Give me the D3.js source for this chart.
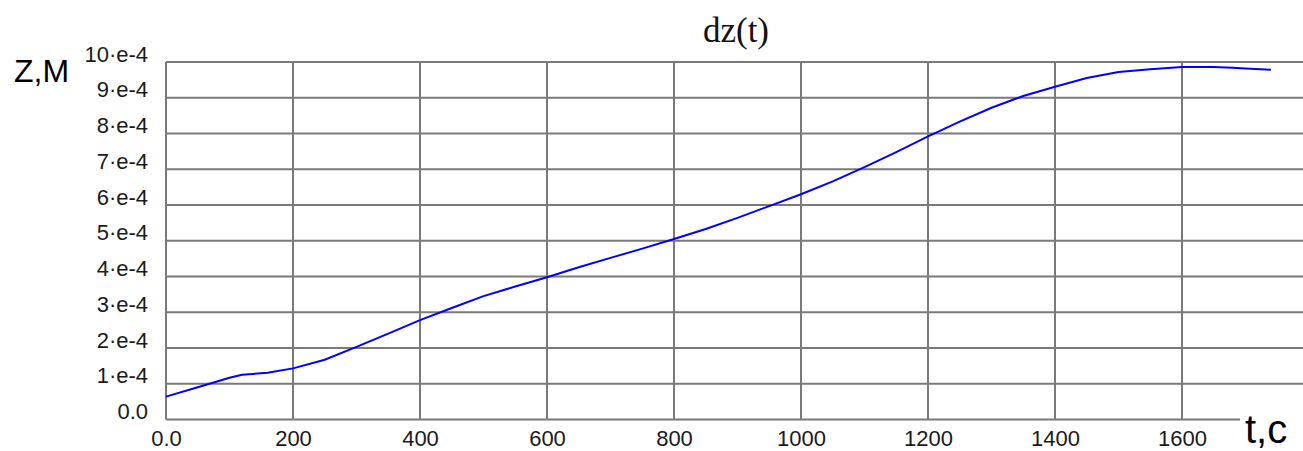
<!DOCTYPE html>
<html lang="en">
  <head>
    <meta charset="UTF-8" />
    <title>dz(t)</title>
    <script src="https://cdn.jsdelivr.net/npm/d3@7"></script>
    <style>
      body { margin: 0; background: #fff; }
      svg { display: block; }
      .tick text { font-family: "Liberation Sans", Arial, sans-serif; font-size: 22px; fill: #1a1a1a; }
    </style>
  </head>
  <body>
    <svg width="1303" height="451"></svg>

    <script>
      // time, seconds
      var times = [0, 50, 100, 120, 160, 200, 250, 300, 350, 400, 450, 500, 550, 600, 650, 700,
        750, 800, 850, 900, 950, 1000, 1050, 1100, 1150, 1200, 1250, 1300, 1350, 1400, 1450,
        1500, 1550, 1600, 1650, 1680, 1700, 1740];
      // dz, units of 1e-4 m
      var dz = [0.64, 0.9, 1.17, 1.25, 1.31, 1.43, 1.67, 2.03, 2.4, 2.78, 3.12, 3.45, 3.72, 3.98,
        4.26, 4.52, 4.78, 5.05, 5.33, 5.64, 5.97, 6.3, 6.66, 7.06, 7.48, 7.92, 8.33, 8.72, 9.05,
        9.31, 9.55, 9.72, 9.8, 9.86, 9.86, 9.84, 9.82, 9.78];

      var xTicks = [0, 200, 400, 600, 800, 1000, 1200, 1400, 1600];
      var xTickLabels = ["0.0", "200", "400", "600", "800", "1000", "1200", "1400", "1600"];
      var yTicks = [0, 1, 2, 3, 4, 5, 6, 7, 8, 9, 10];
      var yTickLabels = ["0.0", "1·e-4", "2·e-4", "3·e-4", "4·e-4", "5·e-4", "6·e-4", "7·e-4",
        "8·e-4", "9·e-4", "10·e-4"];

      var svg = d3.select("svg");
      var W = +svg.attr("width");
      var plotLeft = 166, plotTop = 62, plotBottom = 419.5, axisEnd = 1240;

      var x = d3.scaleLinear().domain([0, 1600]).range([plotLeft, 1182]);
      var y = d3.scaleLinear().domain([0, 10]).range([plotBottom, plotTop]);

      var grid = svg.append("g").attr("stroke", "#7a7a7a").attr("stroke-width", 2);

      // horizontal grid (bottom one is the axis line, shorter)
      grid.selectAll(".hg")
        .data(yTicks)
        .enter()
        .append("line")
        .attr("x1", plotLeft)
        .attr("x2", function (d) { return d === 0 ? axisEnd : W; })
        .attr("y1", function (d) { return y(d); })
        .attr("y2", function (d) { return y(d); });

      grid.selectAll(".vg")
        .data(xTicks)
        .enter()
        .append("line")
        .attr("x1", function (d) { return x(d); })
        .attr("x2", function (d) { return x(d); })
        .attr("y1", plotTop)
        .attr("y2", plotBottom);

      var yAxis = svg.append("g")
        .attr("transform", "translate(" + plotLeft + ",0)")
        .call(d3.axisLeft(y).tickValues(yTicks).tickSize(0)
          .tickFormat(function (d, i) { return yTickLabels[i]; }));
      yAxis.select(".domain").remove();
      yAxis.selectAll(".tick text").attr("x", -18).attr("y", -1).attr("dy", 0);

      var xAxis = svg.append("g")
        .attr("transform", "translate(0," + plotBottom + ")")
        .call(d3.axisBottom(x).tickValues(xTicks).tickSize(0)
          .tickFormat(function (d, i) { return xTickLabels[i]; }));
      xAxis.select(".domain").remove();
      xAxis.selectAll(".tick text").attr("y", 26.5).attr("dy", 0);

      var pts = times.map(function (t, i) { return [t, dz[i]]; });
      svg.append("path")
        .datum(pts)
        .attr("fill", "none")
        .attr("stroke", "#0000ff")
        .attr("stroke-width", 2)
        .attr("d", d3.line()
          .x(function (d) { return x(d[0]); })
          .y(function (d) { return y(d[1]); }));

      svg.append("text")
        .attr("x", 736)
        .attr("y", 42)
        .attr("text-anchor", "middle")
        .style("font-family", "'Liberation Serif', 'Times New Roman', serif")
        .style("font-size", "35px")
        .attr("fill", "#111")
        .text("dz(t)");

      svg.append("text")
        .attr("x", 14)
        .attr("y", 82)
        .style("font-family", "'Liberation Sans', Arial, sans-serif")
        .style("font-size", "32px")
        .attr("fill", "#000")
        .text("Z,M");

      svg.append("text")
        .attr("x", 1245)
        .attr("y", 443)
        .style("font-family", "'Liberation Sans', Arial, sans-serif")
        .style("font-size", "40px")
        .attr("fill", "#000")
        .text("t,c");
    </script>
  </body>
</html>
